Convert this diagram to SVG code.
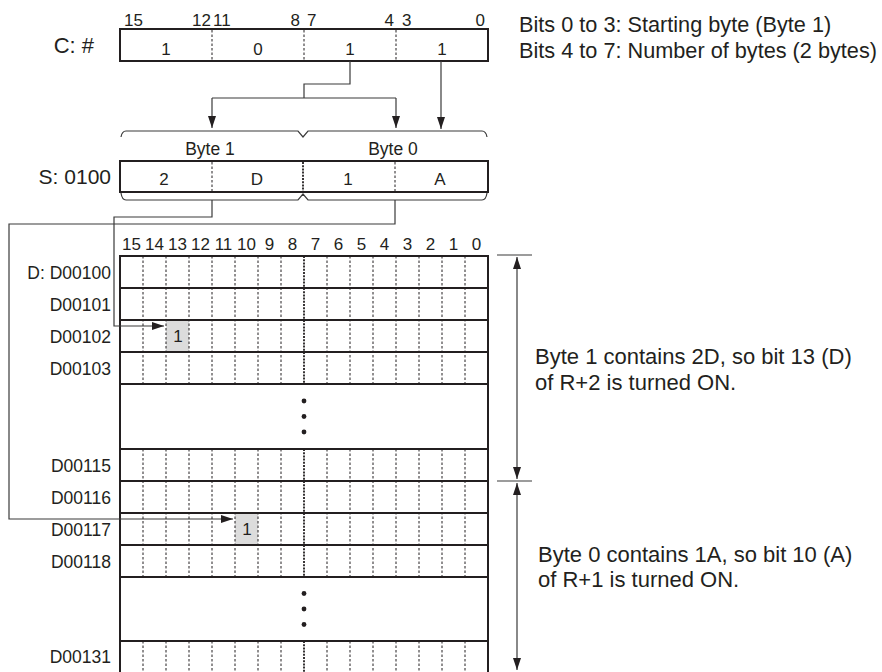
<svg xmlns="http://www.w3.org/2000/svg" width="882" height="672" viewBox="0 0 882 672">
<defs>
<style>
text{font-family:"Liberation Sans",Arial,Helvetica,sans-serif;fill:#231f20}
.big{font-size:21px}
.note{font-size:21.7px}
.note2{font-size:22px}
.lbl{font-size:17.5px}
.num{font-size:17px}
.mid{text-anchor:middle}
.end{text-anchor:end}
.box{fill:#fff;stroke:#231f20;stroke-width:2}
.rl{stroke:#231f20;stroke-width:2;fill:none}
.dt{stroke:#231f20;stroke-width:1;stroke-dasharray:2.5 2;fill:none}
.dtb{stroke:#231f20;stroke-width:1.8;stroke-dasharray:2 1.2;fill:none}
.cn{stroke:#3a3a3a;stroke-width:1.2;fill:none}
.hl{fill:#dcdcdc}
</style>
<marker id="ah" viewBox="0 0 12 8" refX="12" refY="4" markerWidth="12" markerHeight="8" markerUnits="userSpaceOnUse" orient="auto-start-reverse">
<path d="M0,0 L12,4 L0,8 z" fill="#231f20"/>
</marker>
</defs>
<rect width="882" height="672" fill="#fff"/>

<g id="c-register">
<text class="big end" x="94" y="53" style="font-size:22px">C: #</text>
<g class="num">
<text x="124" y="26">15</text>
<text class="end" x="211" y="26">12</text>
<text x="213" y="26">11</text>
<text class="end" x="300" y="26">8</text>
<text x="307" y="26">7</text>
<text class="end" x="394" y="26">4</text>
<text x="402" y="26">3</text>
<text class="end" x="485" y="26">0</text>
</g>
<rect class="box" x="120" y="29" width="368" height="32"/>
<path class="dt" d="M212,30V60M304,30V60M396,30V60"/>
<g class="num mid">
<text x="166" y="55">1</text>
<text x="258" y="55">0</text>
<text x="350" y="55">1</text>
<text x="442" y="55">1</text>
</g>
</g>

<g id="c-notes" class="note">
<text x="519" y="32">Bits 0 to 3: Starting byte (Byte 1)</text>
<text x="519" y="58">Bits 4 to 7: Number of bytes (2 bytes)</text>
</g>

<g id="s-register">
<path class="cn" d="M121,137 Q122,131 126,131 H298 L303,137 L308,131 H482 Q486,131 487,137"/>
<text class="lbl mid" x="210" y="155">Byte 1</text>
<text class="lbl mid" x="393" y="155">Byte 0</text>
<text class="big end" x="111" y="184">S: 0100</text>
<rect class="box" x="120" y="161" width="368" height="31"/>
<path class="dt" d="M212,162V191M395,162V191"/>
<path class="dtb" d="M303,162V191"/>
<g class="num mid">
<text x="164" y="185">2</text>
<text x="257" y="185">D</text>
<text x="348" y="185">1</text>
<text x="440" y="185">A</text>
</g>
<path class="cn" d="M121,193 Q122,200 126,200 H298 L303,194 L308,200 H482 Q486,200 487,193"/>
</g>

<g id="d-grid">
<rect class="hl" x="166" y="320" width="23" height="32"/>
<rect class="hl" x="235" y="513" width="23" height="32"/>
<g class="num mid">
<text x="131.5" y="250">15</text>
<text x="154.5" y="250">14</text>
<text x="177.5" y="250">13</text>
<text x="200.5" y="250">12</text>
<text x="223.5" y="250">11</text>
<text x="246.5" y="250">10</text>
<text x="269.5" y="250">9</text>
<text x="292.5" y="250">8</text>
<text x="315.5" y="250">7</text>
<text x="338.5" y="250">6</text>
<text x="361.5" y="250">5</text>
<text x="384.5" y="250">4</text>
<text x="407.5" y="250">3</text>
<text x="430.5" y="250">2</text>
<text x="453.5" y="250">1</text>
<text x="476.5" y="250">0</text>
</g>
<path class="dt" d="M143,256V384M166,256V384M189,256V384M212,256V384M235,256V384M258,256V384M281,256V384M327,256V384M350,256V384M373,256V384M396,256V384M419,256V384M442,256V384M465,256V384
M143,449V577M166,449V577M189,449V577M212,449V577M235,449V577M258,449V577M281,449V577M327,449V577M350,449V577M373,449V577M396,449V577M419,449V577M442,449V577M465,449V577
M143,641V672M166,641V672M189,641V672M212,641V672M235,641V672M258,641V672M281,641V672M327,641V672M350,641V672M373,641V672M396,641V672M419,641V672M442,641V672M465,641V672"/>
<path class="dtb" d="M304,256V384M304,449V577M304,641V672"/>
<path class="rl" d="M120,256H488M120,288H488M120,320H488M120,352H488M120,384H488M120,449H488M120,481H488M120,513H488M120,545H488M120,577H488M120,641H488M120,255V672M488,255V672"/>
<g fill="#231f20">
<circle cx="304" cy="401" r="2.4"/>
<circle cx="304" cy="416.5" r="2.4"/>
<circle cx="304" cy="432" r="2.4"/>
<circle cx="304" cy="593.5" r="2.4"/>
<circle cx="304" cy="609" r="2.4"/>
<circle cx="304" cy="624.5" r="2.4"/>
</g>
<g class="num mid">
<text x="178" y="342">1</text>
<text x="247" y="535">1</text>
</g>
<g class="lbl end">
<text x="111" y="279">D: D00100</text>
<text x="111" y="311">D00101</text>
<text x="111" y="343">D00102</text>
<text x="111" y="375">D00103</text>
<text x="111" y="472">D00115</text>
<text x="111" y="504">D00116</text>
<text x="111" y="536">D00117</text>
<text x="111" y="568">D00118</text>
<text x="111" y="663">D00131</text>
</g>
</g>

<g id="range-notes">
<path class="cn" d="M497,255H532M497,481H532"/>
<path class="cn" d="M517,257V479" marker-start="url(#ah)" marker-end="url(#ah)"/>
<path class="cn" d="M517,483V670" marker-start="url(#ah)" marker-end="url(#ah)"/>
<g class="note2">
<text x="535" y="364">Byte 1 contains 2D, so bit 13 (D)</text>
<text x="535" y="390">of R+2 is turned ON.</text>
<text x="538" y="562">Byte 0 contains 1A, so bit 10 (A)</text>
<text x="538" y="587">of R+1 is turned ON.</text>
</g>
</g>

<g id="connectors">
<path class="cn" d="M350,61V84H304V98"/>
<path class="cn" d="M212,98H396"/>
<path class="cn" d="M212,98V128" marker-end="url(#ah)"/>
<path class="cn" d="M396,98V128" marker-end="url(#ah)"/>
<path class="cn" d="M441,61V129" marker-end="url(#ah)"/>
<path class="cn" d="M212,200V217H114V326H164" marker-end="url(#ah)"/>
<path class="cn" d="M395,200V224H9V519H233" marker-end="url(#ah)"/>
</g>
</svg>
